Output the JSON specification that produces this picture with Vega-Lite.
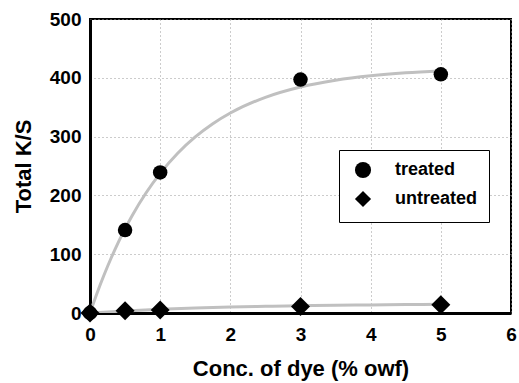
{
  "$schema": "https://vega.github.io/schema/vega-lite/v6.json",
  "width": 421,
  "height": 294,
  "autosize": "none",
  "padding": {"left": 90, "top": 19, "right": 8, "bottom": 70},
  "background": "white",
  "config": {
    "view": {"stroke": "black", "strokeWidth": 2},
    "font": "Liberation Sans",
    "axis": {
      "labelFont": "Liberation Sans", "labelFontWeight": "bold", "labelFontSize": 19, "labelColor": "black",
      "titleFont": "Liberation Sans", "titleFontWeight": "bold", "titleFontSize": 22, "titleColor": "black",
      "domainColor": "black", "domainWidth": 3,
      "gridColor": "#999", "gridDash": [1, 3], "gridWidth": 1,
      "tickColor": "black", "labelFlush": false, "labelOverlap": false
    }
  },
  "datasets": {
    "curves": [
      {"conc": 0, "ks": 0, "series": "treated"},
      {"conc": 0.1, "ks": 33.7, "series": "treated"},
      {"conc": 0.2, "ks": 64.6, "series": "treated"},
      {"conc": 0.3, "ks": 93.1, "series": "treated"},
      {"conc": 0.4, "ks": 119.3, "series": "treated"},
      {"conc": 0.5, "ks": 143.4, "series": "treated"},
      {"conc": 0.6, "ks": 165.5, "series": "treated"},
      {"conc": 0.8, "ks": 204.5, "series": "treated"},
      {"conc": 1.0, "ks": 237.5, "series": "treated"},
      {"conc": 1.25, "ks": 271.7, "series": "treated"},
      {"conc": 1.5, "ks": 299.4, "series": "treated"},
      {"conc": 1.75, "ks": 321.9, "series": "treated"},
      {"conc": 2.0, "ks": 340.1, "series": "treated"},
      {"conc": 2.5, "ks": 366.8, "series": "treated"},
      {"conc": 3.0, "ks": 384.4, "series": "treated"},
      {"conc": 3.5, "ks": 395.9, "series": "treated"},
      {"conc": 4.0, "ks": 403.5, "series": "treated"},
      {"conc": 4.5, "ks": 408.5, "series": "treated"},
      {"conc": 5.0, "ks": 411.7, "series": "treated"},
      {"conc": 0, "ks": 0, "series": "untreated"},
      {"conc": 0.25, "ks": 1.9, "series": "untreated"},
      {"conc": 0.5, "ks": 3.5, "series": "untreated"},
      {"conc": 1.0, "ks": 6.3, "series": "untreated"},
      {"conc": 1.5, "ks": 8.4, "series": "untreated"},
      {"conc": 2.0, "ks": 10.1, "series": "untreated"},
      {"conc": 2.5, "ks": 11.4, "series": "untreated"},
      {"conc": 3.0, "ks": 12.4, "series": "untreated"},
      {"conc": 3.5, "ks": 13.2, "series": "untreated"},
      {"conc": 4.0, "ks": 13.8, "series": "untreated"},
      {"conc": 4.5, "ks": 14.3, "series": "untreated"},
      {"conc": 5.0, "ks": 14.7, "series": "untreated"}
    ],
    "points": [
      {"conc": 0, "ks": 0, "series": "treated"},
      {"conc": 0.5, "ks": 141, "series": "treated"},
      {"conc": 1, "ks": 239, "series": "treated"},
      {"conc": 3, "ks": 397, "series": "treated"},
      {"conc": 5, "ks": 406, "series": "treated"},
      {"conc": 0, "ks": 0, "series": "untreated"},
      {"conc": 0.5, "ks": 4, "series": "untreated"},
      {"conc": 1, "ks": 5, "series": "untreated"},
      {"conc": 3, "ks": 11, "series": "untreated"},
      {"conc": 5, "ks": 14, "series": "untreated"}
    ]
  },
  "layer": [
    {
      "data": {"name": "curves"},
      "mark": {"type": "line", "color": "#c0c0c0", "strokeWidth": 3, "interpolate": "monotone", "clip": true},
      "encoding": {
        "x": {"field": "conc", "type": "quantitative", "scale": {"domain": [0, 6]}, "axis": {"values": [0,1,2,3,4,5,6], "title": "Conc. of dye (% owf)", "tickSize": 0, "labelPadding": 12, "titlePadding": 14, "grid": true, "format": "d"}},
        "y": {"field": "ks", "type": "quantitative", "scale": {"domain": [0, 500]}, "axis": {"values": [0,100,200,300,400,500], "title": "Total K/S", "tickSize": 0, "labelPadding": 9, "titlePadding": 14, "grid": true}},
        "detail": {"field": "series"}
      }
    },
    {
      "data": {"name": "points"},
      "mark": {"type": "point", "filled": true, "color": "black", "opacity": 1, "clip": false},
      "encoding": {
        "x": {"field": "conc", "type": "quantitative"},
        "y": {"field": "ks", "type": "quantitative"},
        "size": {"condition": {"test": "datum.series === 'untreated'", "value": 360}, "value": 210},
        "shape": {
          "field": "series", "type": "nominal",
          "scale": {"domain": ["treated", "untreated"], "range": ["circle", "diamond"]},
          "legend": {
            "title": null, "orient": "none", "legendX": 249, "legendY": 131,
            "strokeColor": "black", "fillColor": "white", "padding": 11,
            "labelFont": "Liberation Sans", "labelFontWeight": "bold", "labelFontSize": 18, "labelColor": "black",
            "symbolFillColor": "black", "symbolStrokeColor": "black", "symbolSize": 260, "symbolOpacity": 1,
            "labelOffset": 23, "rowPadding": 5, "symbolOffset": 4
          }
        }
      }
    }
  ]
}
